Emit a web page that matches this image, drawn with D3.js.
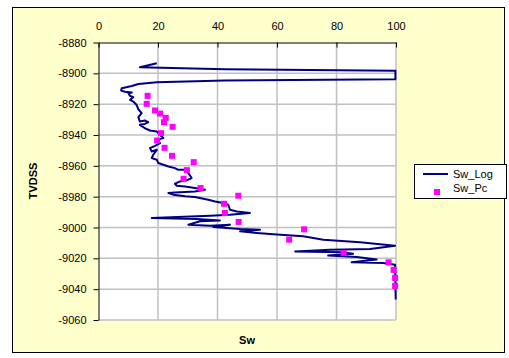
<!DOCTYPE html>
<html><head><meta charset="utf-8">
<script src="https://cdn.jsdelivr.net/npm/d3@7"></script>
<style>body{margin:0;background:#fff}svg{display:block}text{font-family:"Liberation Sans",Arial,sans-serif}</style>
</head><body>
<script>
// Sw_Log trace (Sw %, TVDSS) in drawing order
const swLog = [19.6,13.9,42.5,99.8,99.8,42.5,19.6,13.4,11.2,7.8,7.6,8.9,11.2,10.0,10.6,11.7,10.6,11.7,12.8,13.4,14.5,13.4,13.9,15.6,16.7,15.6,13.9,15.6,17.3,19.6,21.2,21.8,19.6,20.7,19.0,17.3,17.9,19.6,18.4,17.9,19.6,20.1,21.8,23.5,25.7,26.8,29.1,30.2,31.3,30.2,27.4,25.7,26.3,29.1,32.4,35.8,32.4,25.7,23.5,25.1,29.1,32.4,36.9,39.2,41.9,43.6,44.2,46.5,50.9,44.2,37.5,17.9,33.0,40.8,34.1,30.2,37.5,44.2,38.6,47.6,54.3,47.6,53.2,59.9,68.8,75.6,87.9,99.7,91.3,77.8,66.1,82.3,85.6,77.2,86.8,93.5,85.1,95.7,99.7,99.9];
const tvdssLog = [-8893.5,-8896.1,-8897.4,-8898.3,-8903.8,-8904.7,-8905.8,-8906.9,-8908.2,-8909.7,-8911.2,-8911.9,-8912.5,-8912.9,-8914.6,-8915.5,-8917.2,-8918.3,-8920.5,-8923.3,-8925.8,-8928.4,-8931.3,-8930.6,-8931.7,-8932.8,-8933.4,-8935.6,-8937.1,-8937.8,-8941.0,-8942.0,-8943.1,-8945.3,-8947.0,-8948.5,-8950.7,-8949.6,-8952.8,-8955.0,-8956.1,-8958.2,-8959.3,-8960.4,-8961.5,-8962.6,-8962.6,-8964.7,-8967.9,-8969.0,-8970.1,-8971.6,-8972.9,-8973.4,-8974.4,-8975.5,-8976.6,-8977.3,-8977.6,-8978.7,-8979.8,-8980.2,-8982.0,-8983.1,-8984.1,-8985.2,-8988.5,-8989.6,-8990.6,-8991.7,-8992.3,-8993.8,-8994.5,-8995.4,-8996.0,-8998.2,-8998.8,-8998.2,-8999.7,-9001.0,-9001.4,-9002.5,-9003.5,-9004.6,-9005.7,-9007.9,-9009.6,-9011.8,-9013.9,-9014.4,-9015.5,-9016.1,-9017.1,-9018.2,-9019.1,-9020.8,-9022.6,-9023.0,-9024.1,-9046.7];
// Sw_Pc points
const swPc = [16.5,16.2,19.0,20.7,22.6,22.0,24.9,21.0,19.7,22.2,24.7,32.0,29.7,28.6,34.3,47.0,42.2,42.5,47.1,69.1,64.1,82.4,97.5,99.2,99.7,99.7];
const tvdssPc = [-8914.6,-8919.8,-8924.1,-8926.1,-8928.9,-8931.7,-8934.7,-8938.8,-8943.6,-8948.3,-8953.5,-8957.6,-8962.8,-8968.4,-8974.4,-8979.4,-8984.6,-8990.6,-8996.4,-9001.2,-9007.9,-9016.5,-9022.6,-9027.5,-9032.7,-9037.9];
const xTicks = [0,20,40,60,80,100];
const yTicks = [-8880,-8900,-8920,-8940,-8960,-8980,-9000,-9020,-9040,-9060];
const seriesNames = ["Sw_Log","Sw_Pc"];

const W=509,H=358;
const svg=d3.select("body").append("svg").attr("width",W).attr("height",H);
svg.append("rect").attr("x",12.5).attr("y",7.5).attr("width",492).attr("height",345)
  .attr("fill","#FFFFCC").attr("stroke","#000").attr("stroke-width",1);

const x=d3.scaleLinear().domain([0,100]).range([98.5,396]);
const y=d3.scaleLinear().domain([-9060,-8880]).range([320,42.5]);

svg.append("rect").attr("x",x(0)).attr("y",y(-8880)).attr("width",x(100)-x(0)).attr("height",y(-9060)-y(-8880))
  .attr("fill","#fff");
const g=svg.append("g");
g.selectAll("line.vg").data(xTicks.slice(1)).join("line").attr("class","vg")
  .attr("x1",d=>x(d)).attr("x2",d=>x(d)).attr("y1",y(-8880)).attr("y2",y(-9060))
  .attr("stroke","#c0c0c0").attr("stroke-width",1.5);
g.selectAll("line.hg").data(yTicks.slice(1)).join("line").attr("class","hg")
  .attr("x1",x(0)).attr("x2",x(100)).attr("y1",d=>y(d)).attr("y2",d=>y(d))
  .attr("stroke","#c0c0c0").attr("stroke-width",1.5);

const line=d3.line().x(d=>x(d[0])).y(d=>y(d[1]));
svg.append("path").datum(swLog.map((v,i)=>[v,tvdssLog[i]]))
  .attr("d",line).attr("fill","none").attr("stroke","#000080").attr("stroke-width",2).attr("stroke-linejoin","round");

svg.selectAll("rect.pc").data(swPc.map((v,i)=>[v,tvdssPc[i]])).join("rect").attr("class","pc")
  .attr("x",d=>x(d[0])-3).attr("y",d=>y(d[1])-3).attr("width",6).attr("height",6).attr("fill","#FF00FF");

const xa=svg.append("g").attr("transform",`translate(0,${y(-8880)})`)
  .call(d3.axisTop(x).tickValues(xTicks).tickFormat(d=>String(d)).tickSizeInner(-5).tickSizeOuter(0).tickPadding(13));
const ya=svg.append("g").attr("transform",`translate(${x(0)},0)`)
  .call(d3.axisLeft(y).tickValues(yTicks).tickFormat(d=>String(d)).tickSizeInner(5).tickSizeOuter(0).tickPadding(7));
[xa,ya].forEach(a=>{a.selectAll("text").attr("font-size",11).attr("fill","#000").attr("font-family","Liberation Sans, Arial, sans-serif");
  a.select(".domain").attr("stroke","#000"); a.selectAll(".tick line").attr("stroke","#000");});

svg.append("text").attr("x",247).attr("y",344).attr("text-anchor","middle").attr("font-size",11).attr("font-weight","bold").text("Sw");
svg.append("text").attr("transform","translate(37,181) rotate(-90)").attr("text-anchor","middle").attr("font-size",11).attr("font-weight","bold").text("TVDSS");

// legend
const lg=svg.append("g");
lg.append("rect").attr("x",414.5).attr("y",164.5).attr("width",92).attr("height",34).attr("fill","#fff").attr("stroke","#000");
lg.append("line").attr("x1",423).attr("x2",448).attr("y1",174).attr("y2",174).attr("stroke","#000080").attr("stroke-width",2);
lg.append("rect").attr("x",434).attr("y",189).attr("width",6).attr("height",6).attr("fill","#FF00FF");
lg.selectAll("text").data(seriesNames).join("text").attr("x",453).attr("y",(d,i)=>178+i*14).attr("font-size",11).text(d=>d);
</script>
</body></html>
